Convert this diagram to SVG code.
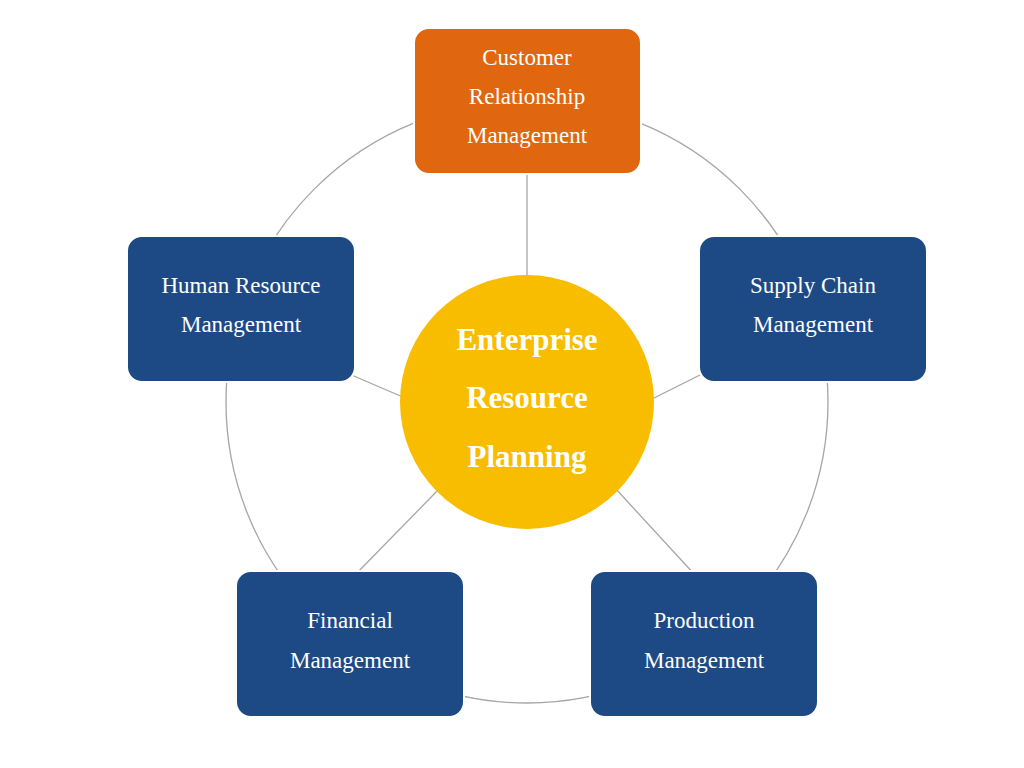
<svg xmlns="http://www.w3.org/2000/svg" width="1024" height="768" viewBox="0 0 1024 768">
<style>
.box{fill:#1d4a85;stroke:#ffffff;stroke-width:2}
.t{font-family:"Liberation Serif",serif;font-size:23px;fill:#ffffff;text-anchor:middle}
.c{font-family:"Liberation Serif",serif;font-size:31px;font-weight:bold;fill:#ffffff;text-anchor:middle}
.l{stroke:#a6a6a6;stroke-width:1.3;fill:none}
</style>
<rect width="1024" height="768" fill="#ffffff"/>
<g id="connectors">
<circle class="l" cx="527" cy="402" r="301"/>
<line class="l" x1="527" y1="150" x2="527" y2="280"/>
<line class="l" x1="340" y1="370" x2="405" y2="398"/>
<line class="l" x1="710" y1="370" x2="650" y2="400"/>
<line class="l" x1="440" y1="488" x2="355" y2="575"/>
<line class="l" x1="615" y1="488" x2="695" y2="575"/>
</g>
<g id="center"><circle cx="527" cy="402" r="127" fill="#f9bd00"/>
<text class="c" x="527" y="350">Enterprise</text><text class="c" x="527" y="408">Resource</text><text class="c" x="527" y="467">Planning</text></g>
<g id="crm"><rect x="414" y="28" width="227" height="146" rx="15" fill="#e06710" stroke="#fff" stroke-width="2"/>
<text class="t" x="527" y="65">Customer</text><text class="t" x="527" y="104">Relationship</text><text class="t" x="527" y="143">Management</text></g>
<g id="hr"><rect class="box" x="127" y="236" width="228" height="146" rx="15"/>
<text class="t" x="241" y="293">Human Resource</text><text class="t" x="241" y="332">Management</text></g>
<g id="scm"><rect class="box" x="699" y="236" width="228" height="146" rx="15"/>
<text class="t" x="813" y="293">Supply Chain</text><text class="t" x="813" y="332">Management</text></g>
<g id="fin"><rect class="box" x="236" y="571" width="228" height="146" rx="15"/>
<text class="t" x="350" y="628">Financial</text><text class="t" x="350" y="668">Management</text></g>
<g id="prod"><rect class="box" x="590" y="571" width="228" height="146" rx="15"/>
<text class="t" x="704" y="628">Production</text><text class="t" x="704" y="668">Management</text></g>
</svg>
